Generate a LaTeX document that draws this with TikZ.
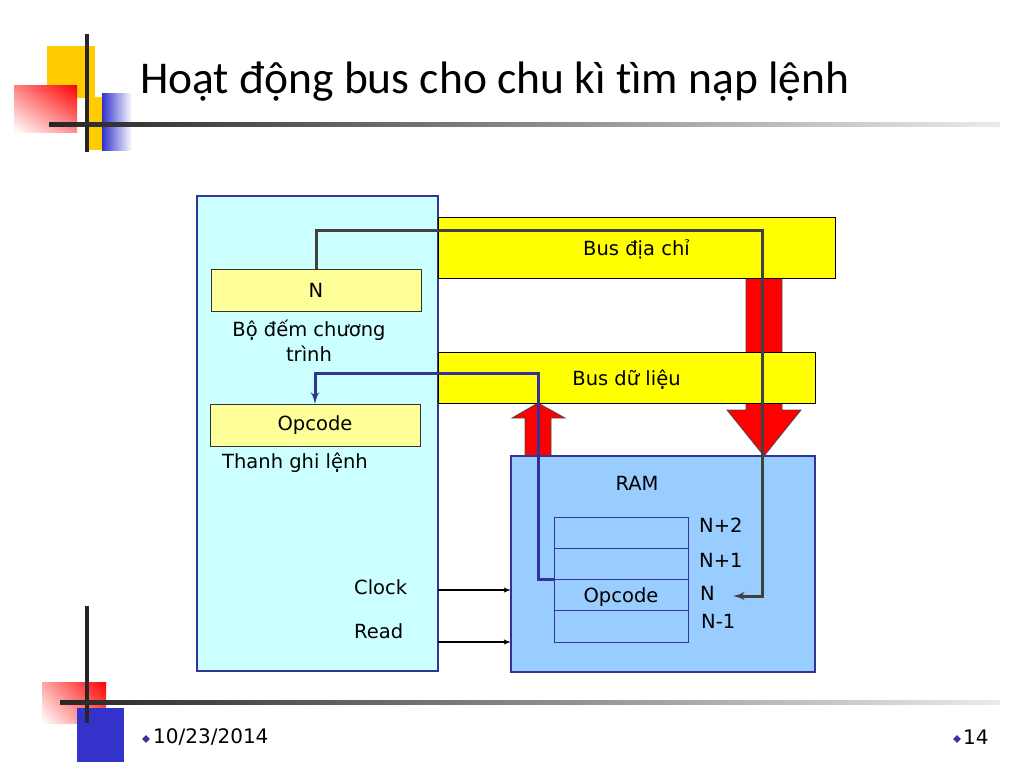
\documentclass[tikz,border=0pt]{standalone}
\usepackage{fontspec}
\setmainfont{DejaVu Sans}
\newfontfamily\titlefont[Ligatures=NoCommon]{Carlito}
\usepackage{tikz}
\usetikzlibrary{arrows,shapes.geometric,shadings}
\definecolor{cpucyan}{HTML}{CCFFFF}
\definecolor{ramblue}{HTML}{99CCFF}
\definecolor{busyellow}{HTML}{FFFF00}
\definecolor{regyellow}{HTML}{FFFF99}
\definecolor{navy}{HTML}{333399}
\definecolor{decoyellow}{HTML}{FFCC00}
\definecolor{decoblue}{HTML}{3333CC}
\definecolor{wire}{HTML}{404040}
\tikzset{block/.style = {shape=rectangle,anchor=north west,inner sep=0,outer sep=0}}
\tikzset{unit/.style = {block,draw=navy,line width=1.2pt}}
\tikzset{bus/.style = {block,draw=black,fill=busyellow,line width=1pt,text depth=0pt}}
\tikzset{reg/.style = {block,draw=black!80,fill=regyellow,line width=1pt,minimum width=210,minimum height=42}}
\tikzset{cell/.style = {block,draw=navy,line width=1pt,minimum width=134,minimum height=31.25,text depth=0pt}}
\tikzset{lbl/.style = {anchor=west,inner sep=0}}
\tikzset{edge/.style = {->,> = latex',line width=1.5pt}}
\tikzset{bigarrow/.style = {fill=red,draw=black!70,line width=0.8pt}}
\tikzset{bullet/.style = {shape=diamond,fill=navy,inner sep=0,minimum size=8}}

\begin{document}
\begin{tikzpicture}[x=1pt,y=-1pt,font=\fontsize{19.5}{25}\selectfont]
		\useasboundingbox (0,0) rectangle (1024,768);
		% header decoration
		\fill[decoyellow] (47,46) rectangle (95,98);
		\fill[decoyellow] (88,97) rectangle (102,150);
		\shade[upper right=red,upper left=red!50,lower right=red!45,lower left=white] (14,85) rectangle (77,132);
		\shade[left color=decoblue,right color=white] (102,93) rectangle (132,150);
		\draw[black!85,line width=4pt] (87,34) -- (87,152);
		\shade[left color=black!85,right color=black!8] (49,122) rectangle (1000,126);
		\node[anchor=base west,inner sep=0] (title) at (140,93)
			{\titlefont\fontsize{45.5}{50}\selectfont Hoạt động bus cho chu kì tìm nạp lệnh};

		% footer decoration
		\shade[upper right=red,upper left=red!35,lower right=red!60,lower left=white] (42,682) rectangle (106,723);
		\fill[decoblue] (77,708) rectangle (124,762);
		\draw[black!85,line width=4pt] (87,606) -- (87,723);
		\shade[left color=black!85,right color=black!8] (60,700) rectangle (1000,704);
		\node[bullet] (b1) at (146,739) {};
		\node[lbl] (date) at (153,737) {\fontsize{20}{24}\selectfont 10/23/2014};
		\node[bullet] (b2) at (957,739) {};
		\node[lbl] (page) at (963,737) {\fontsize{20}{24}\selectfont 14};

		% cpu side
		\node[unit,fill=cpucyan,minimum width=241,minimum height=475] (cpu) at (197,196) {};
		\node[reg] (pc) at (211,269) {N};
		\node[align=center] (pclbl) at (309,341) {Bộ đếm chương\\trình};
		\node[reg] (ir) at (210,404) {Opcode};
		\node (irlbl) at (295,463) {Thanh ghi lệnh};
		\node[lbl] (clk) at (354,587) {Clock};
		\node[lbl] (rd) at (354,631) {Read};

		% big arrows between buses and ram
		\draw[bigarrow] (525,456) -- (525,418) -- (512,418) -- (538,403) -- (565,418) -- (551,418) -- (551,456) -- cycle;
		\draw[bigarrow] (746,278) -- (746,410) -- (727,410) -- (764,456) -- (801,410) -- (782,410) -- (782,278) -- cycle;

		% buses
		\node[bus,minimum width=397,minimum height=61] (abus) at (438,217) {Bus địa chỉ};
		\node[bus,minimum width=377,minimum height=51] (dbus) at (438,352) {Bus dữ liệu};

		% ram
		\node[unit,fill=ramblue,minimum width=304,minimum height=216] (ram) at (511,456) {};
		\node (ramlbl) at (637,483) {RAM};
		\node[cell] (cell0) at (554,517) {};
		\node[cell] (cell1) at (554,548.25) {};
		\node[cell] (cell2) at (554,579.5) {Opcode};
		\node[cell] (cell3) at (554,610.75) {};
		\node[lbl] (n2) at (699,525) {N+2};
		\node[lbl] (n1) at (699,560) {N+1};
		\node[lbl] (n0) at (700,593) {N};
		\node[lbl] (nm) at (701,621) {N-1};

		% control lines
		\coordinate (clkin) at (511,590);
		\coordinate (rdin) at (511,642);
		\draw[edge] (cpu.east |- clkin) -- (clkin);
		\draw[edge] (cpu.east |- rdin) -- (rdin);

		% address and data paths
		\coordinate (addrturn) at (762,230);
		\coordinate (nend) at (733,596);
		\draw[edge,wire,line width=3pt] (pc.north) |- (addrturn) |- (nend);
		\coordinate (dataturn) at (538,373);
		\draw[edge,navy,line width=3pt] (cell1.south west) -| (dataturn) -| (ir.north);
	\end{tikzpicture}
\end{document}
